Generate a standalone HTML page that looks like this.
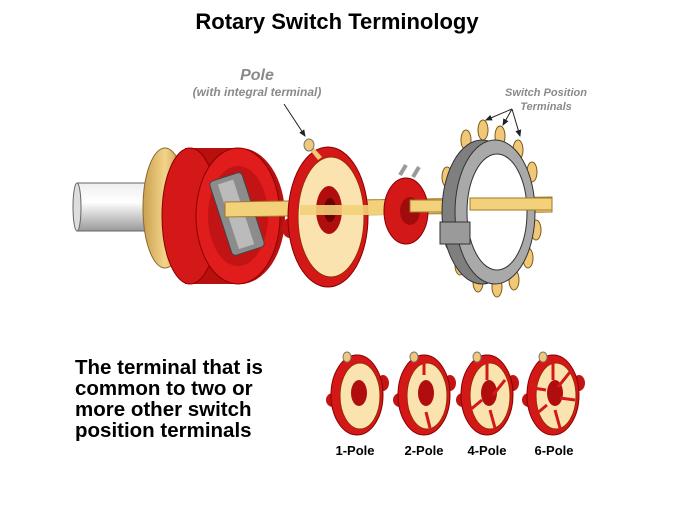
<!DOCTYPE html>
<html><head><meta charset="utf-8"><style>
body{margin:0;background:#fff;width:674px;height:506px;overflow:hidden}
svg{display:block}
</style></head><body>
<svg width="674" height="506" viewBox="0 0 674 506" font-family="Liberation Sans, sans-serif">
<defs>
<marker id="a" markerWidth="8" markerHeight="8" refX="6" refY="3" orient="auto"><path d="M0,0L7,3L0,6z" fill="#222"/></marker>
<linearGradient id="g" x1="0" y1="0" x2="0" y2="1"><stop offset="0" stop-color="#eee"/><stop offset=".4" stop-color="#fff"/><stop offset="1" stop-color="#999"/></linearGradient>
<linearGradient id="b" x1="0" y1="0" x2="1" y2="0"><stop offset="0" stop-color="#c9a050"/><stop offset=".5" stop-color="#f3d48a"/><stop offset="1" stop-color="#b8893a"/></linearGradient>
<g id="d">
<ellipse cx="-24" cy="5" rx="7" ry="7" fill="#c21414"/>
<ellipse cx="26" cy="-12" rx="6" ry="8" fill="#c21414"/>
<ellipse cx="0" cy="0" rx="26" ry="40" fill="#d41818" stroke="#8a0000"/>
<ellipse cx="3" cy="1" rx="20" ry="33" fill="#fbe3b0" stroke="#9a2a00"/>
<ellipse cx="2" cy="-2" rx="8" ry="13" fill="#b00e0e"/>
<ellipse cx="-10" cy="-38" rx="4" ry="5" fill="#f0c878" stroke="#777"/>
</g>
</defs>
<text x="337" y="29" text-anchor="middle" font-size="22" font-weight="bold">Rotary Switch Terminology</text>
<text x="257" y="80" text-anchor="middle" font-size="16" font-weight="bold" font-style="italic" fill="#8a8a8a">Pole</text>
<text x="257" y="96" text-anchor="middle" font-size="12" font-weight="bold" font-style="italic" fill="#8a8a8a">(with integral terminal)</text>
<line x1="284" y1="104" x2="305" y2="136" stroke="#222" marker-end="url(#a)"/>
<text x="546" y="96" text-anchor="middle" font-size="11" font-weight="bold" font-style="italic" fill="#8a8a8a">Switch Position</text>
<text x="546" y="110" text-anchor="middle" font-size="11" font-weight="bold" font-style="italic" fill="#8a8a8a">Terminals</text>
<g stroke="#222" marker-end="url(#a)"><line x1="512" y1="109" x2="486" y2="120"/><line x1="512" y1="109" x2="503" y2="125"/><line x1="512" y1="109" x2="520" y2="136"/></g>
<rect x="77" y="183" width="70" height="48" fill="url(#g)" stroke="#666"/>
<ellipse cx="77" cy="207" rx="4" ry="24" fill="#ddd" stroke="#666"/>
<ellipse cx="165" cy="208" rx="22" ry="60" fill="url(#b)" stroke="#8a6a2a"/>
<path d="M185,148 L240,148 A45,68 0 0 1 240,284 L185,284 Z" fill="#b80f0f"/>
<ellipse cx="190" cy="216" rx="28" ry="68" fill="#d41818" stroke="#8a0000"/>
<ellipse cx="238" cy="216" rx="42" ry="68" fill="#e01c1c" stroke="#8a0000"/>
<ellipse cx="238" cy="216" rx="30" ry="50" fill="#c21414"/>
<rect x="220" y="175" width="34" height="78" rx="4" fill="#8c8c8c" stroke="#444" transform="rotate(-18 237 214)"/>
<rect x="228" y="180" width="16" height="68" fill="#bbb" transform="rotate(-18 237 214)"/>
<path d="M225,202 L552,197 L552,212 L225,217Z" fill="#f3d07a" stroke="#a07a2a"/>
<ellipse cx="290" cy="228" rx="8" ry="10" fill="#c21414"/>
<ellipse cx="358" cy="195" rx="8" ry="10" fill="#c21414"/>
<ellipse cx="328" cy="217" rx="40" ry="70" fill="#d41818" stroke="#8a0000"/>
<ellipse cx="331" cy="217" rx="33" ry="60" fill="#fbe3b0" stroke="#9a2a00"/>
<ellipse cx="329" cy="210" rx="13" ry="24" fill="#b00e0e"/>
<ellipse cx="330" cy="210" rx="6" ry="12" fill="#6a0000"/>
<path d="M310,150 L318,160 L322,157 L313,147Z" fill="#f0c878"/>
<ellipse cx="309" cy="145" rx="5" ry="6" fill="#f0c878" stroke="#777"/>
<rect x="300" y="205" width="100" height="10" fill="#f3d07a" opacity=".9"/>
<ellipse cx="406" cy="211" rx="22" ry="33" fill="#d41818" stroke="#8a0000"/>
<ellipse cx="410" cy="211" rx="10" ry="14" fill="#a00c0c"/>
<path d="M400,175 l6,-10 M413,177 l6,-10" stroke="#999" stroke-width="4"/>
<rect x="410" y="200" width="50" height="12" fill="#f3d07a" stroke="#a07a2a"/>
<g fill="#f0c878" stroke="#7a5a1a">
<ellipse cx="447" cy="177" rx="5" ry="10"/><ellipse cx="466" cy="140" rx="5" ry="10"/><ellipse cx="483" cy="130" rx="5" ry="10"/><ellipse cx="500" cy="136" rx="5" ry="10"/><ellipse cx="518" cy="150" rx="5" ry="10"/><ellipse cx="532" cy="172" rx="5" ry="10"/><ellipse cx="536" cy="230" rx="5" ry="10"/><ellipse cx="528" cy="258" rx="5" ry="10"/><ellipse cx="514" cy="280" rx="5" ry="10"/><ellipse cx="497" cy="287" rx="5" ry="10"/><ellipse cx="478" cy="282" rx="5" ry="10"/><ellipse cx="460" cy="265" rx="5" ry="10"/><ellipse cx="450" cy="240" rx="5" ry="10"/>
</g>
<ellipse cx="482" cy="212" rx="40" ry="72" fill="#7f7f7f" stroke="#333"/>
<ellipse cx="495" cy="212" rx="40" ry="72" fill="#a9a9a9" stroke="#333"/>
<ellipse cx="497" cy="212" rx="30" ry="58" fill="#fff" stroke="#333"/>
<rect x="440" y="222" width="30" height="22" fill="#9a9a9a" stroke="#333"/>
<rect x="470" y="198" width="82" height="12" fill="#f3d07a" stroke="#a07a2a"/>
<g font-size="20.5" font-weight="bold">
<text x="75" y="374">The terminal that is</text>
<text x="75" y="395">common to two or</text>
<text x="75" y="416">more other switch</text>
<text x="75" y="437">position terminals</text>
</g>
<use href="#d" x="357" y="395"/>
<use href="#d" x="424" y="395"/>
<use href="#d" x="487" y="395"/>
<use href="#d" x="553" y="395"/>
<g stroke="#d41818" stroke-width="3">
<line x1="424" y1="375" x2="424" y2="362"/><line x1="426" y1="412" x2="430" y2="428"/>
<line x1="487" y1="380" x2="487" y2="362"/><line x1="493" y1="395" x2="505" y2="380"/><line x1="482" y1="400" x2="470" y2="410"/><line x1="490" y1="410" x2="495" y2="428"/>
<line x1="553" y1="380" x2="553" y2="360"/><line x1="558" y1="387" x2="570" y2="372"/><line x1="560" y1="398" x2="575" y2="400"/><line x1="555" y1="410" x2="560" y2="428"/><line x1="547" y1="405" x2="535" y2="415"/><line x1="546" y1="390" x2="533" y2="388"/>
</g>
<g font-size="13" font-weight="bold" text-anchor="middle">
<text x="355" y="455">1-Pole</text><text x="424" y="455">2-Pole</text><text x="487" y="455">4-Pole</text><text x="554" y="455">6-Pole</text>
</g>
</svg>
</body></html>
